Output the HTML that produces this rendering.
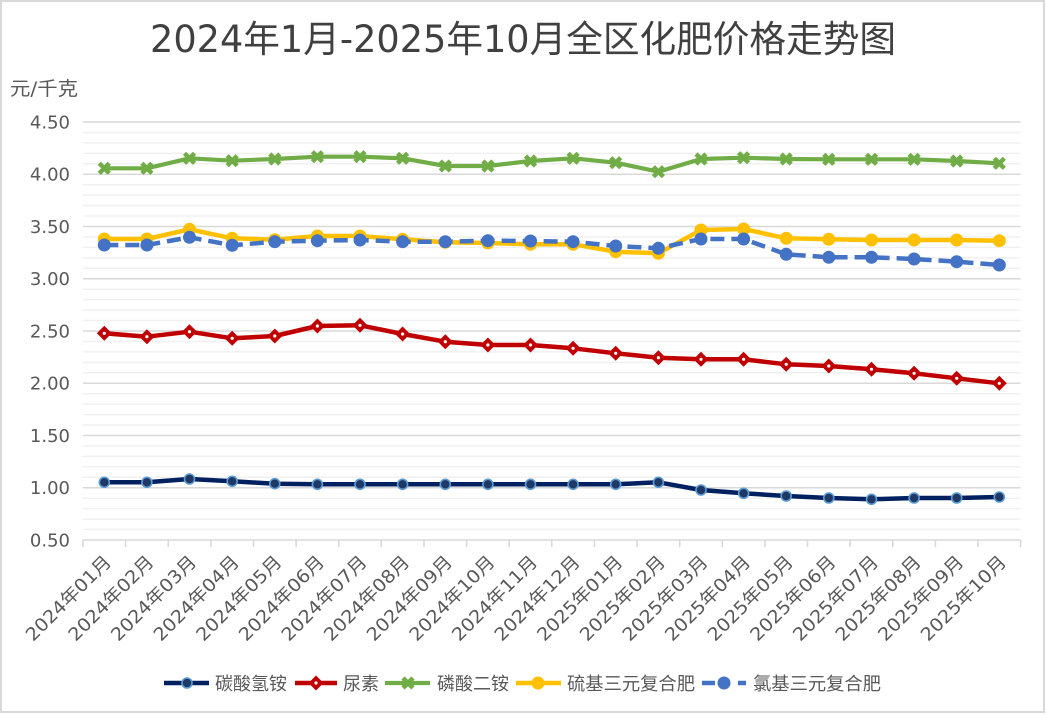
<!DOCTYPE html>
<html><head><meta charset="utf-8"><style>
html,body{margin:0;padding:0;background:#fff;}
svg{display:block;}
text{font-family:"DejaVu Sans","Liberation Sans","Noto Sans CJK SC",sans-serif;}
</style></head><body>
<svg width="1046" height="715" viewBox="0 0 1046 715" xmlns="http://www.w3.org/2000/svg">
<defs>
<g id="mn"><circle r="5" fill="#1f3864" stroke="#5b9bd5" stroke-width="1.6"/></g>
<g id="mr"><path d="M0,-7.5 L7.5,0 L0,7.5 L-7.5,0Z" fill="#c00000"/><circle r="1.6" fill="#fff"/></g>
<g id="mg"><path d="M-5,-5L5,5M-5,5L5,-5" stroke="#70ad47" stroke-width="4.5"/></g>
<g id="my"><circle r="6.5" fill="#ffc000"/></g>
<g id="mb"><circle r="6.5" fill="#4472c4"/></g>
</defs>
<rect x="1" y="1" width="1043" height="711" fill="#fff" stroke="#d9d9d9" stroke-width="2"/>

<text x="150" y="52" font-size="37" fill="#404040" textLength="746" lengthAdjust="spacingAndGlyphs">2024年1月-2025年10月全区化肥价格走势图</text>
<text x="10" y="95" font-size="19" fill="#595959" textLength="68" lengthAdjust="spacingAndGlyphs">元/千克</text>

<!-- minor grid -->
<g stroke="#f0f0f0" stroke-width="1.5">
<line x1="83" x2="1020.6" y1="132.45" y2="132.45"/><line x1="83" x2="1020.6" y1="142.9" y2="142.9"/><line x1="83" x2="1020.6" y1="153.35" y2="153.35"/><line x1="83" x2="1020.6" y1="163.8" y2="163.8"/>
<line x1="83" x2="1020.6" y1="184.7" y2="184.7"/><line x1="83" x2="1020.6" y1="195.15" y2="195.15"/><line x1="83" x2="1020.6" y1="205.6" y2="205.6"/><line x1="83" x2="1020.6" y1="216.05" y2="216.05"/>
<line x1="83" x2="1020.6" y1="236.95" y2="236.95"/><line x1="83" x2="1020.6" y1="247.4" y2="247.4"/><line x1="83" x2="1020.6" y1="257.85" y2="257.85"/><line x1="83" x2="1020.6" y1="268.3" y2="268.3"/>
<line x1="83" x2="1020.6" y1="289.2" y2="289.2"/><line x1="83" x2="1020.6" y1="299.65" y2="299.65"/><line x1="83" x2="1020.6" y1="310.1" y2="310.1"/><line x1="83" x2="1020.6" y1="320.55" y2="320.55"/>
<line x1="83" x2="1020.6" y1="341.45" y2="341.45"/><line x1="83" x2="1020.6" y1="351.9" y2="351.9"/><line x1="83" x2="1020.6" y1="362.35" y2="362.35"/><line x1="83" x2="1020.6" y1="372.8" y2="372.8"/>
<line x1="83" x2="1020.6" y1="393.7" y2="393.7"/><line x1="83" x2="1020.6" y1="404.15" y2="404.15"/><line x1="83" x2="1020.6" y1="414.6" y2="414.6"/><line x1="83" x2="1020.6" y1="425.05" y2="425.05"/>
<line x1="83" x2="1020.6" y1="445.95" y2="445.95"/><line x1="83" x2="1020.6" y1="456.4" y2="456.4"/><line x1="83" x2="1020.6" y1="466.85" y2="466.85"/><line x1="83" x2="1020.6" y1="477.3" y2="477.3"/>
<line x1="83" x2="1020.6" y1="498.2" y2="498.2"/><line x1="83" x2="1020.6" y1="508.65" y2="508.65"/><line x1="83" x2="1020.6" y1="519.1" y2="519.1"/><line x1="83" x2="1020.6" y1="529.55" y2="529.55"/>
</g>
<!-- major grid -->
<g stroke="#d9d9d9" stroke-width="1.6">
<line x1="83" x2="1020.6" y1="122" y2="122"/><line x1="83" x2="1020.6" y1="174.25" y2="174.25"/><line x1="83" x2="1020.6" y1="226.5" y2="226.5"/><line x1="83" x2="1020.6" y1="278.75" y2="278.75"/><line x1="83" x2="1020.6" y1="331" y2="331"/><line x1="83" x2="1020.6" y1="383.25" y2="383.25"/><line x1="83" x2="1020.6" y1="435.5" y2="435.5"/><line x1="83" x2="1020.6" y1="487.75" y2="487.75"/><line x1="83" x2="1020.6" y1="540" y2="540"/>
<path d="M83,540v7M125.6,540v7M168.2,540v7M210.9,540v7M253.5,540v7M296.1,540v7M338.7,540v7M381.3,540v7M424,540v7M466.6,540v7M509.2,540v7M551.8,540v7M594.4,540v7M637,540v7M679.7,540v7M722.3,540v7M764.9,540v7M807.5,540v7M850.1,540v7M892.8,540v7M935.4,540v7M978,540v7M1020.6,540v7"/>
</g>

<g font-size="18" fill="#595959" text-anchor="end">
<text x="70" y="128.5">4.50</text><text x="70" y="180.7">4.00</text><text x="70" y="233">3.50</text><text x="70" y="285.2">3.00</text><text x="70" y="337.5">2.50</text><text x="70" y="389.7">2.00</text><text x="70" y="442">1.50</text><text x="70" y="494.2">1.00</text><text x="70" y="546.5">0.50</text>
</g>

<g font-size="18" fill="#595959" text-anchor="end">
<text transform="translate(112.3,563) rotate(-45)" textLength="112" lengthAdjust="spacingAndGlyphs">2024年01月</text>
<text transform="translate(154.9,563) rotate(-45)" textLength="112" lengthAdjust="spacingAndGlyphs">2024年02月</text>
<text transform="translate(197.5,563) rotate(-45)" textLength="112" lengthAdjust="spacingAndGlyphs">2024年03月</text>
<text transform="translate(240.2,563) rotate(-45)" textLength="112" lengthAdjust="spacingAndGlyphs">2024年04月</text>
<text transform="translate(282.8,563) rotate(-45)" textLength="112" lengthAdjust="spacingAndGlyphs">2024年05月</text>
<text transform="translate(325.4,563) rotate(-45)" textLength="112" lengthAdjust="spacingAndGlyphs">2024年06月</text>
<text transform="translate(368,563) rotate(-45)" textLength="112" lengthAdjust="spacingAndGlyphs">2024年07月</text>
<text transform="translate(410.6,563) rotate(-45)" textLength="112" lengthAdjust="spacingAndGlyphs">2024年08月</text>
<text transform="translate(453.3,563) rotate(-45)" textLength="112" lengthAdjust="spacingAndGlyphs">2024年09月</text>
<text transform="translate(495.9,563) rotate(-45)" textLength="112" lengthAdjust="spacingAndGlyphs">2024年10月</text>
<text transform="translate(538.5,563) rotate(-45)" textLength="112" lengthAdjust="spacingAndGlyphs">2024年11月</text>
<text transform="translate(581.1,563) rotate(-45)" textLength="112" lengthAdjust="spacingAndGlyphs">2024年12月</text>
<text transform="translate(623.7,563) rotate(-45)" textLength="112" lengthAdjust="spacingAndGlyphs">2025年01月</text>
<text transform="translate(666.4,563) rotate(-45)" textLength="112" lengthAdjust="spacingAndGlyphs">2025年02月</text>
<text transform="translate(709,563) rotate(-45)" textLength="112" lengthAdjust="spacingAndGlyphs">2025年03月</text>
<text transform="translate(751.6,563) rotate(-45)" textLength="112" lengthAdjust="spacingAndGlyphs">2025年04月</text>
<text transform="translate(794.2,563) rotate(-45)" textLength="112" lengthAdjust="spacingAndGlyphs">2025年05月</text>
<text transform="translate(836.8,563) rotate(-45)" textLength="112" lengthAdjust="spacingAndGlyphs">2025年06月</text>
<text transform="translate(879.5,563) rotate(-45)" textLength="112" lengthAdjust="spacingAndGlyphs">2025年07月</text>
<text transform="translate(922.1,563) rotate(-45)" textLength="112" lengthAdjust="spacingAndGlyphs">2025年08月</text>
<text transform="translate(964.7,563) rotate(-45)" textLength="112" lengthAdjust="spacingAndGlyphs">2025年09月</text>
<text transform="translate(1007.3,563) rotate(-45)" textLength="112" lengthAdjust="spacingAndGlyphs">2025年10月</text>
</g>

<!-- Navy 碳酸氢铵 -->
<polyline fill="none" stroke="#002060" stroke-width="4.5" stroke-linejoin="round" points="104.3,482.3 146.9,482.3 189.5,479 232.2,481.3 274.8,483.7 317.4,484.3 360,484.3 402.6,484.3 445.3,484.3 487.9,484.3 530.5,484.3 573.1,484.3 615.7,484.3 658.4,482.3 701,490 743.6,493.3 786.2,496 828.8,498 871.5,499.3 914.1,498 956.7,498 999.3,497"/>
<use href="#mn" x="104.3" y="482.3"/><use href="#mn" x="146.9" y="482.3"/><use href="#mn" x="189.5" y="479"/><use href="#mn" x="232.2" y="481.3"/><use href="#mn" x="274.8" y="483.7"/><use href="#mn" x="317.4" y="484.3"/><use href="#mn" x="360" y="484.3"/><use href="#mn" x="402.6" y="484.3"/><use href="#mn" x="445.3" y="484.3"/><use href="#mn" x="487.9" y="484.3"/><use href="#mn" x="530.5" y="484.3"/><use href="#mn" x="573.1" y="484.3"/><use href="#mn" x="615.7" y="484.3"/><use href="#mn" x="658.4" y="482.3"/><use href="#mn" x="701" y="490"/><use href="#mn" x="743.6" y="493.3"/><use href="#mn" x="786.2" y="496"/><use href="#mn" x="828.8" y="498"/><use href="#mn" x="871.5" y="499.3"/><use href="#mn" x="914.1" y="498"/><use href="#mn" x="956.7" y="498"/><use href="#mn" x="999.3" y="497"/>

<!-- Red 尿素 -->
<polyline fill="none" stroke="#c00000" stroke-width="4.5" stroke-linejoin="round" points="104.3,333.3 146.9,336.7 189.5,331.7 232.2,338.3 274.8,336 317.4,326 360,325.3 402.6,334 445.3,341.7 487.9,345 530.5,345 573.1,348.3 615.7,353.3 658.4,357.7 701,359.3 743.6,359.3 786.2,364.3 828.8,366 871.5,369.3 914.1,373.3 956.7,378.3 999.3,383.3"/>
<use href="#mr" x="104.3" y="333.3"/><use href="#mr" x="146.9" y="336.7"/><use href="#mr" x="189.5" y="331.7"/><use href="#mr" x="232.2" y="338.3"/><use href="#mr" x="274.8" y="336"/><use href="#mr" x="317.4" y="326"/><use href="#mr" x="360" y="325.3"/><use href="#mr" x="402.6" y="334"/><use href="#mr" x="445.3" y="341.7"/><use href="#mr" x="487.9" y="345"/><use href="#mr" x="530.5" y="345"/><use href="#mr" x="573.1" y="348.3"/><use href="#mr" x="615.7" y="353.3"/><use href="#mr" x="658.4" y="357.7"/><use href="#mr" x="701" y="359.3"/><use href="#mr" x="743.6" y="359.3"/><use href="#mr" x="786.2" y="364.3"/><use href="#mr" x="828.8" y="366"/><use href="#mr" x="871.5" y="369.3"/><use href="#mr" x="914.1" y="373.3"/><use href="#mr" x="956.7" y="378.3"/><use href="#mr" x="999.3" y="383.3"/>

<!-- Green 磷酸二铵 -->
<polyline fill="none" stroke="#70ad47" stroke-width="4.2" stroke-linejoin="round" points="104.3,168.3 146.9,168.3 189.5,158.3 232.2,160.7 274.8,159 317.4,156.7 360,156.7 402.6,158.3 445.3,166 487.9,166 530.5,161 573.1,158.3 615.7,162.7 658.4,171.7 701,159 743.6,157.7 786.2,159 828.8,159.3 871.5,159.3 914.1,159.3 956.7,161 999.3,163.3"/>
<use href="#mg" x="104.3" y="168.3"/><use href="#mg" x="146.9" y="168.3"/><use href="#mg" x="189.5" y="158.3"/><use href="#mg" x="232.2" y="160.7"/><use href="#mg" x="274.8" y="159"/><use href="#mg" x="317.4" y="156.7"/><use href="#mg" x="360" y="156.7"/><use href="#mg" x="402.6" y="158.3"/><use href="#mg" x="445.3" y="166"/><use href="#mg" x="487.9" y="166"/><use href="#mg" x="530.5" y="161"/><use href="#mg" x="573.1" y="158.3"/><use href="#mg" x="615.7" y="162.7"/><use href="#mg" x="658.4" y="171.7"/><use href="#mg" x="701" y="159"/><use href="#mg" x="743.6" y="157.7"/><use href="#mg" x="786.2" y="159"/><use href="#mg" x="828.8" y="159.3"/><use href="#mg" x="871.5" y="159.3"/><use href="#mg" x="914.1" y="159.3"/><use href="#mg" x="956.7" y="161"/><use href="#mg" x="999.3" y="163.3"/>

<!-- Yellow 硫基三元复合肥 -->
<polyline fill="none" stroke="#ffc000" stroke-width="4.5" stroke-linejoin="round" points="104.3,239 146.9,239 189.5,229.3 232.2,238.3 274.8,239.7 317.4,236 360,236 402.6,239.3 445.3,242.3 487.9,243 530.5,244.3 573.1,244.3 615.7,251.7 658.4,253.3 701,230 743.6,229 786.2,238.3 828.8,239.3 871.5,240 914.1,240 956.7,240 999.3,240.7"/>
<use href="#my" x="104.3" y="239"/><use href="#my" x="146.9" y="239"/><use href="#my" x="189.5" y="229.3"/><use href="#my" x="232.2" y="238.3"/><use href="#my" x="274.8" y="239.7"/><use href="#my" x="317.4" y="236"/><use href="#my" x="360" y="236"/><use href="#my" x="402.6" y="239.3"/><use href="#my" x="445.3" y="242.3"/><use href="#my" x="487.9" y="243"/><use href="#my" x="530.5" y="244.3"/><use href="#my" x="573.1" y="244.3"/><use href="#my" x="615.7" y="251.7"/><use href="#my" x="658.4" y="253.3"/><use href="#my" x="701" y="230"/><use href="#my" x="743.6" y="229"/><use href="#my" x="786.2" y="238.3"/><use href="#my" x="828.8" y="239.3"/><use href="#my" x="871.5" y="240"/><use href="#my" x="914.1" y="240"/><use href="#my" x="956.7" y="240"/><use href="#my" x="999.3" y="240.7"/>

<!-- Blue dashed 氯基三元复合肥 -->
<polyline fill="none" stroke="#4472c4" stroke-width="4.5" stroke-dasharray="14 7" stroke-linejoin="round" points="104.3,245 146.9,245 189.5,237.3 232.2,245.3 274.8,241.7 317.4,240.7 360,240 402.6,241.7 445.3,241.7 487.9,240.7 530.5,241 573.1,241.7 615.7,246 658.4,248.3 701,239 743.6,239 786.2,254.3 828.8,257.3 871.5,257.3 914.1,259 956.7,261.7 999.3,265"/>
<use href="#mb" x="104.3" y="245"/><use href="#mb" x="146.9" y="245"/><use href="#mb" x="189.5" y="237.3"/><use href="#mb" x="232.2" y="245.3"/><use href="#mb" x="274.8" y="241.7"/><use href="#mb" x="317.4" y="240.7"/><use href="#mb" x="360" y="240"/><use href="#mb" x="402.6" y="241.7"/><use href="#mb" x="445.3" y="241.7"/><use href="#mb" x="487.9" y="240.7"/><use href="#mb" x="530.5" y="241"/><use href="#mb" x="573.1" y="241.7"/><use href="#mb" x="615.7" y="246"/><use href="#mb" x="658.4" y="248.3"/><use href="#mb" x="701" y="239"/><use href="#mb" x="743.6" y="239"/><use href="#mb" x="786.2" y="254.3"/><use href="#mb" x="828.8" y="257.3"/><use href="#mb" x="871.5" y="257.3"/><use href="#mb" x="914.1" y="259"/><use href="#mb" x="956.7" y="261.7"/><use href="#mb" x="999.3" y="265"/>

<!-- Legend -->
<line x1="164" y1="683" x2="209" y2="683" stroke="#002060" stroke-width="4.5"/><use href="#mn" x="187" y="683"/>
<line x1="295" y1="683" x2="337" y2="683" stroke="#c00000" stroke-width="4.5"/><use href="#mr" x="316" y="683"/>
<line x1="385" y1="683" x2="430" y2="683" stroke="#70ad47" stroke-width="4.2"/><use href="#mg" x="408" y="683"/>
<line x1="516" y1="683" x2="561" y2="683" stroke="#ffc000" stroke-width="4.5"/><use href="#my" x="538" y="683"/>
<path d="M702,683H715M738,683H746" stroke="#4472c4" stroke-width="4.5"/><use href="#mb" x="724" y="683"/>
<g font-size="18" fill="#595959">
<text x="215" y="690" textLength="72" lengthAdjust="spacingAndGlyphs">碳酸氢铵</text>
<text x="343" y="690" textLength="36" lengthAdjust="spacingAndGlyphs">尿素</text>
<text x="437" y="690" textLength="72" lengthAdjust="spacingAndGlyphs">磷酸二铵</text>
<text x="567" y="690" textLength="128" lengthAdjust="spacingAndGlyphs">硫基三元复合肥</text>
<text x="753" y="690" textLength="128" lengthAdjust="spacingAndGlyphs">氯基三元复合肥</text>
</g>
</svg>
</body></html>
